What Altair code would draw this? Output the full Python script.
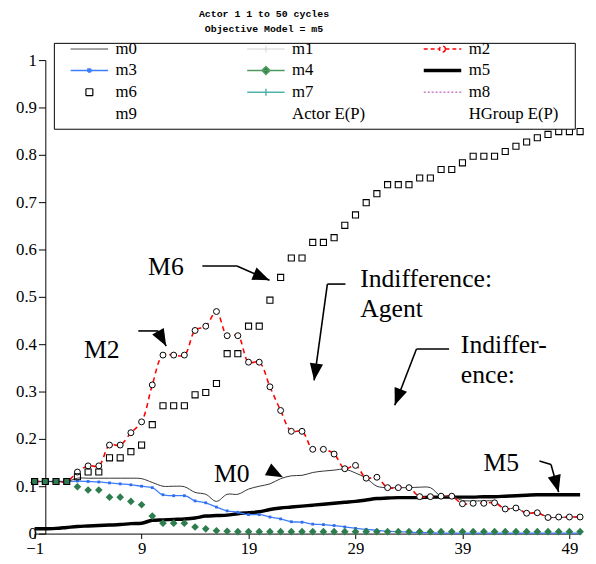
import altair as alt
import pandas as pd

# ---------------- data ----------------
cycles = list(range(-1, 51))

m0 = [0.11, 0.11, 0.11, 0.11, 0.117, 0.117, 0.117, 0.117, 0.117, 0.117, 0.116, 0.108, 0.100, 0.100, 0.099,
      0.087, 0.083, 0.068, 0.083, 0.083, 0.094, 0.100, 0.105, 0.116, 0.122, 0.123, 0.129, 0.132, 0.134, 0.136,
      0.128, 0.117, 0.100, 0.097, 0.097, 0.097, 0.098, 0.097, 0.079, 0.079, 0.070, 0.069, 0.069, 0.068, 0.052,
      0.054, 0.043, 0.044, 0.035, 0.034, 0.035, 0.035]

m2 = [0.11, 0.11, 0.11, 0.11, 0.13, 0.143, 0.143, 0.187, 0.187, 0.213, 0.236, 0.314, 0.377, 0.377, 0.377,
      0.429, 0.438, 0.469, 0.418, 0.418, 0.362, 0.362, 0.31, 0.26, 0.216, 0.216, 0.178, 0.178, 0.168, 0.137,
      0.144, 0.117, 0.119, 0.097, 0.097, 0.097, 0.078, 0.078, 0.079, 0.079, 0.063, 0.064, 0.064, 0.065, 0.052,
      0.054, 0.043, 0.044, 0.034, 0.035, 0.035, 0.035]

m3 = [0.11, 0.11, 0.11, 0.11, 0.111, 0.110, 0.109, 0.107, 0.105, 0.103, 0.100, 0.097, 0.082, 0.080, 0.080,
      0.069, 0.065, 0.056, 0.048, 0.045, 0.040, 0.040, 0.035, 0.031, 0.025, 0.024, 0.020, 0.019, 0.017, 0.014,
      0.011, 0.009, 0.007, 0.005, 0.004, 0.003, 0.002, 0.002, 0.001, 0.001, 0.001, 0.001, 0.001, 0.001, 0.001,
      0.001, 0.001, 0.001, 0.001, 0.001, 0.001, 0.001]

m4 = [0.11, 0.11, 0.11, 0.11, 0.099, 0.092, 0.092, 0.077, 0.077, 0.068, 0.061, 0.037, 0.022, 0.022, 0.022,
      0.014, 0.010, 0.006, 0.005, 0.004, 0.004, 0.004, 0.004, 0.004, 0.004, 0.004, 0.004, 0.004, 0.004, 0.004,
      0.004, 0.004, 0.004, 0.004, 0.004, 0.004, 0.004, 0.004, 0.004, 0.004, 0.004, 0.004, 0.004, 0.004, 0.004,
      0.004, 0.004, 0.004, 0.004, 0.004, 0.004, 0.004]

m5 = [0.01, 0.01, 0.011, 0.013, 0.015, 0.016, 0.017, 0.018, 0.019, 0.021, 0.022, 0.028, 0.029, 0.030, 0.031,
      0.033, 0.037, 0.038, 0.039, 0.042, 0.044, 0.046, 0.051, 0.054, 0.056, 0.058, 0.060, 0.062, 0.064, 0.066,
      0.068, 0.071, 0.074, 0.075, 0.076, 0.076, 0.076, 0.077, 0.077, 0.077, 0.077, 0.077, 0.078, 0.078, 0.079,
      0.080, 0.081, 0.082, 0.082, 0.082, 0.082, 0.082]

m6 = [0.11, 0.11, 0.11, 0.11, 0.12, 0.13, 0.13, 0.16, 0.16, 0.173, 0.187, 0.23, 0.27, 0.27, 0.27,
      0.293, 0.298, 0.317, 0.38, 0.38, 0.438, 0.438, 0.493, 0.541, 0.582, 0.582, 0.615, 0.615, 0.625, 0.651,
      0.673, 0.699, 0.718, 0.737, 0.737, 0.737, 0.751, 0.751, 0.769, 0.769, 0.783, 0.797, 0.797, 0.797, 0.807,
      0.818, 0.827, 0.836, 0.843, 0.849, 0.849, 0.849]

x_ticks = [-1, 9, 19, 29, 39, 49]
y_ticks = [0, 0.1, 0.2, 0.3, 0.4, 0.5, 0.6, 0.7, 0.8, 0.9, 1]

series_names = ["m0", "m1", "m2", "m3", "m4", "m5", "m6", "m7", "m8", "m9", "Actor E(P)", "HGroup E(P)"]

# annotations (data coordinates)
ann_text = ["M6", "M2", "Indifference:", "Agent", "Indiffer-", "ence:", "M0", "M5"]
ann_x = [9.61, 3.61, 29.44, 29.44, 38.85, 38.85, 15.76, 40.97]
ann_y = [0.546, 0.37, 0.521, 0.458, 0.381, 0.319, 0.108, 0.133]

arrow_x = [14.68, 17.91, 8.69, 10.53, 28.06, 26.37, 37.75, 34.70, 46.2, 47.28]
arrow_y = [0.565, 0.565, 0.428, 0.428, 0.527, 0.527, 0.39, 0.39, 0.1535, 0.146]
arrow_x2 = [17.91, 20.96, 10.53, 11.30, 26.37, 25.13, 34.70, 32.67, 47.28, 47.99]
arrow_y2 = [0.565, 0.535, 0.428, 0.396, 0.527, 0.3235, 0.39, 0.271, 0.146, 0.0875]

head_x = [20.96, 11.30, 25.13, 32.67, 22.22, 47.99]
head_y = [0.535, 0.396, 0.3235, 0.271, 0.119, 0.0875]
head_angle = [23, 61, 98, 111, 28, 75]

# legend frame (data coordinates of its corners)
frame_x = [0.845]
frame_x2 = [49.55]
frame_y = [1.0354]
frame_y2 = [0.854]

# ---------------- styles ----------------
legend_stroke = ["#333333", "#d0d0d0", "#ff0000", "#3d7eff", "#4e9a5e", "#000000",
                 "#000000", "#4fb3ad", "#c77dc7", "#ffffff", "#ffffff", "#ffffff"]
legend_fill = ["#ffffff", "#ffffff", "#ffffff", "#2f6ef0", "#2e7d4f", "#ffffff",
               "#ffffff", "#ffffff", "#ffffff", "#ffffff", "#ffffff", "#ffffff"]
legend_dash = [[1, 0], [1, 0], [4, 3], [1, 0], [1, 0], [1, 0],
               [1, 0], [1, 0], [2, 2], [1, 0], [1, 0], [1, 0]]
legend_width = [1, 1, 1.5, 1.5, 1.5, 3.5, 1.2, 1.5, 1.5, 1, 1, 1]
LINE = "M-6.2,0H1.4"
legend_shape = [
    LINE,
    "M-6.2,0H1.4M-2.4,-0.7V0.7",
    "M-6.2,0H-3M-1.8,0H1.4M-1.8,0A0.6,0.6 0 1,0 -3,0A0.6,0.6 0 1,0 -1.8,0",
    "M-6.2,0H1.4M-2.7,-0.3H-2.1V0.3H-2.7Z",
    "M-6.2,0H1.4M-2.4,-0.8L-1.6,0L-2.4,0.8L-3.2,0Z",
    LINE,
    "M-3.1,-0.7H-1.7V0.7H-3.1Z",
    "M-6.2,0H1.4M-2.4,-0.7V0.7M-3.1,0H-1.7",
    LINE,
    LINE, LINE, LINE,
]

SERIF = "Liberation Serif"


def frame(values):
    return pd.DataFrame({"x": cycles, "y": values})


X = alt.X("x:Q", title=None,
          scale=alt.Scale(domain=[-1, 50], nice=False, zero=False),
          axis=alt.Axis(values=x_ticks, format="d", tickSize=5, labelPadding=2, grid=False,
                        domainColor="black", tickColor="black", labelColor="black",
                        labelFont=SERIF, labelFontSize=17, labelFlush=False, labelOverlap=False))
Y = alt.Y("y:Q", title=None,
          scale=alt.Scale(domain=[0, 1], nice=False, zero=False),
          axis=alt.Axis(values=y_ticks, format="~g", tickSize=7, labelPadding=2, grid=False,
                        offset=-10.84, domainColor="black", tickColor="black", labelColor="black",
                        labelFont=SERIF, labelFontSize=17, labelOverlap=False))

l_m5 = alt.Chart(frame(m5)).mark_line(color="black", strokeWidth=3.5, interpolate="monotone").encode(x=X, y=Y)
l_m3 = alt.Chart(frame(m3)).mark_line(color="#3d7eff", strokeWidth=1.3, interpolate="monotone").encode(x=X, y=Y)
p_m3 = alt.Chart(frame(m3)).mark_square(color="#2f6ef0", size=8, opacity=1).encode(x=X, y=Y)
l_m0 = alt.Chart(frame(m0)).mark_line(color="#333333", strokeWidth=1, interpolate="catmull-rom").encode(x=X, y=Y)
l_m2 = alt.Chart(frame(m2)).mark_line(color="#ff0000", strokeWidth=1.6, strokeDash=[5, 4],
                                      interpolate="catmull-rom").encode(x=X, y=Y)
p_m2 = alt.Chart(frame(m2)).mark_point(shape="circle", size=36, filled=True, fill="white",
                                       stroke="black", strokeWidth=1, opacity=1).encode(x=X, y=Y)
p_m4 = alt.Chart(frame(m4)).mark_point(shape="diamond", size=60, filled=True, color="#2e7d4f",
                                       opacity=1).encode(x=X, y=Y)
p_m6 = alt.Chart(frame(m6)).mark_square(size=38, filled=False, color="black", strokeWidth=1.1,
                                        opacity=1).encode(x=X, y=Y)

ann_df = pd.DataFrame({"x": ann_x, "y": ann_y, "t": ann_text})
texts = alt.Chart(ann_df).mark_text(font=SERIF, fontSize=26, align="left", baseline="alphabetic",
                                    color="black").encode(x=X, y=Y, text="t:N")

arr_df = pd.DataFrame({"x": arrow_x, "y": arrow_y, "x2": arrow_x2, "y2": arrow_y2})
arrows = alt.Chart(arr_df).mark_rule(color="black", strokeWidth=1.6).encode(
    x=X, y=Y, x2="x2:Q", y2="y2:Q")

head_df = pd.DataFrame({"x": head_x, "y": head_y, "a": head_angle})
heads = alt.Chart(head_df).mark_point(shape="M0,0L-2.8,-1.1L-2.8,1.1Z", size=150, filled=True,
                                      color="black", opacity=1).encode(
    x=X, y=Y, angle=alt.Angle("a:Q", scale=None))

box_df = pd.DataFrame({"x": frame_x, "x2": frame_x2, "y": frame_y, "y2": frame_y2})
box = alt.Chart(box_df).mark_rect(fill="white", stroke="black", strokeWidth=1).encode(
    x=X, x2="x2:Q", y=Y, y2="y2:Q")

leg = alt.Legend(title=None, orient="none", legendX=59, legendY=-20, columns=3, direction="horizontal",
                 gridAlign="all", symbolSize=100, labelFont=SERIF, labelFontSize=17, labelColor="black",
                 labelOffset=6, columnPadding=34, rowPadding=4, padding=0, symbolOpacity=1, labelLimit=300)
legend_df = pd.DataFrame({"series": series_names})
legend_layer = alt.Chart(legend_df).mark_point(opacity=0).encode(
    stroke=alt.Stroke("series:N", scale=alt.Scale(domain=series_names, range=legend_stroke), legend=leg),
    fill=alt.Fill("series:N", scale=alt.Scale(domain=series_names, range=legend_fill), legend=leg),
    shape=alt.Shape("series:N", scale=alt.Scale(domain=series_names, range=legend_shape), legend=leg),
    strokeDash=alt.StrokeDash("series:N", scale=alt.Scale(domain=series_names, range=legend_dash), legend=leg),
    strokeWidth=alt.StrokeWidth("series:N", scale=alt.Scale(type="ordinal", domain=series_names,
                                                            range=legend_width), legend=leg),
)

chart = alt.layer(
    l_m5, l_m3, p_m3, l_m0, l_m2, p_m2, p_m4, p_m6, arrows, heads, texts, box, legend_layer
).properties(
    width=553, height=480,
    autosize=alt.AutoSizeParams(type="none"),
    padding={"left": 27, "top": 49, "right": 8, "bottom": 27},
    title=alt.TitleParams(["Actor 1 1 to 50 cycles", "Objective Model = m5"], font="Liberation Mono",
                          fontSize=10, fontWeight="bold", color="black", lineHeight=16, offset=6,
                          frame="group", anchor="middle", dx=-44),
).configure_view(strokeWidth=0)

chart.save("out.html", embed_options={"renderer": "svg", "actions": False})
